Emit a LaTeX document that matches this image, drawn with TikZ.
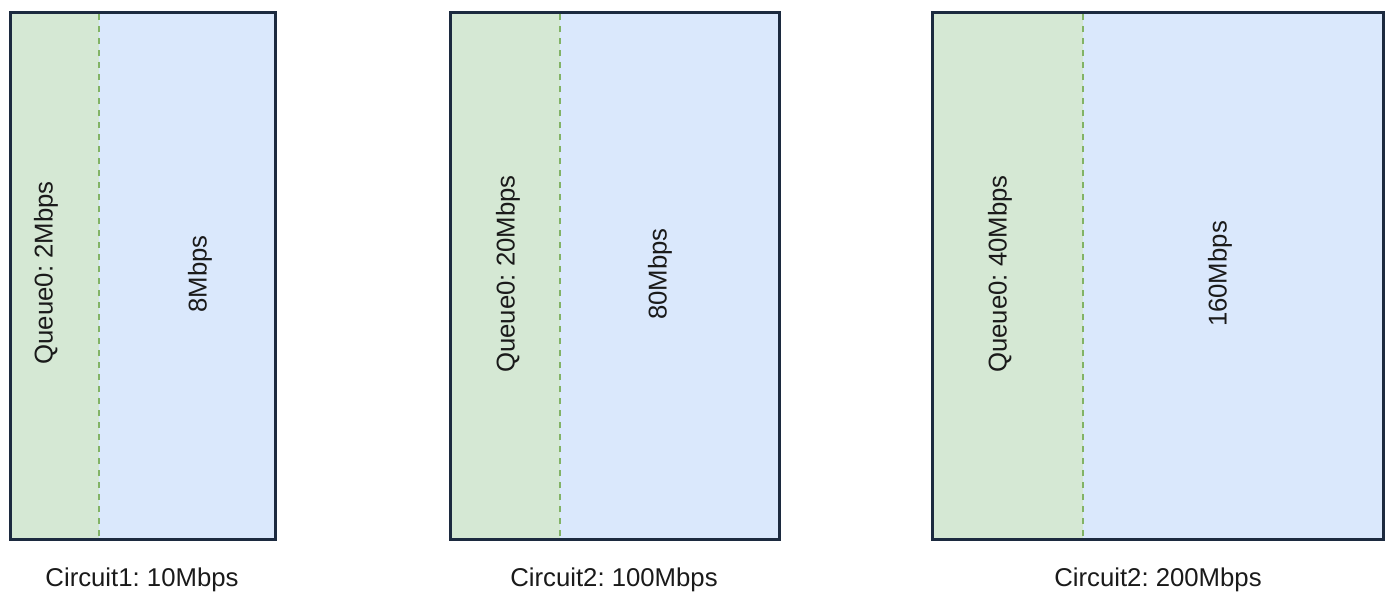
\documentclass[tikz,border=0pt]{standalone}
\usepackage{fontspec}
\setmainfont{Liberation Sans}
\frenchspacing
\definecolor{qgreen}{HTML}{D5E8D4}
\definecolor{qblue}{HTML}{DAE8FC}
\definecolor{dgreen}{HTML}{82B366}
\definecolor{navy}{HTML}{1C2A3F}
\definecolor{txt}{HTML}{1A1A1A}
\tikzset{
  greenpart/.style={fill=qgreen, draw=none},
  bluepart/.style={fill=qblue, draw=none},
  frame/.style={draw=navy, line width=2.25pt},
  divider/.style={draw=dgreen, line width=1.6pt, dash pattern=on 4.5pt off 4.5pt},
  lbl/.style={text=txt, font=\fontsize{19.3pt}{22pt}\selectfont\frenchspacing, inner sep=0pt},
  vlbl/.style={lbl, rotate=90}
}
\begin{document}
\begin{tikzpicture}[x=0.75pt,y=-0.75pt]
\useasboundingbox (0,0) rectangle (1390,598);
% box 1
\fill[greenpart] (10,13) rectangle (99,540);
\fill[bluepart] (99,13) rectangle (275,540);
\draw[divider] (99,14) -- (99,539);
\draw[frame] (10,13) rectangle (275,540);
\node[vlbl] (q1) at (46,273) {Queue0: 2Mbps};
\node[vlbl] (b1) at (200,274) {8Mbps};
\node[lbl] (c1) at (142,580) {Circuit1: 10Mbps};
% box 2
\fill[greenpart] (450,13) rectangle (560,540);
\fill[bluepart] (560,13) rectangle (779,540);
\draw[divider] (560,14) -- (560,539);
\draw[frame] (450,13) rectangle (779,540);
\node[vlbl] (q2) at (508,274) {Queue0: 20Mbps};
\node[vlbl] (b2) at (660,274) {80Mbps};
\node[lbl] (c2) at (614,580) {Circuit2: 100Mbps};
% box 3
\fill[greenpart] (932,13) rectangle (1083,540);
\fill[bluepart] (1083,13) rectangle (1383,540);
\draw[divider] (1083,14) -- (1083,539);
\draw[frame] (932,13) rectangle (1383,540);
\node[vlbl] (q3) at (1000,274) {Queue0: 40Mbps};
\node[vlbl] (b3) at (1220,274) {160Mbps};
\node[lbl] (c3) at (1158,580) {Circuit2: 200Mbps};
\end{tikzpicture}
\end{document}
